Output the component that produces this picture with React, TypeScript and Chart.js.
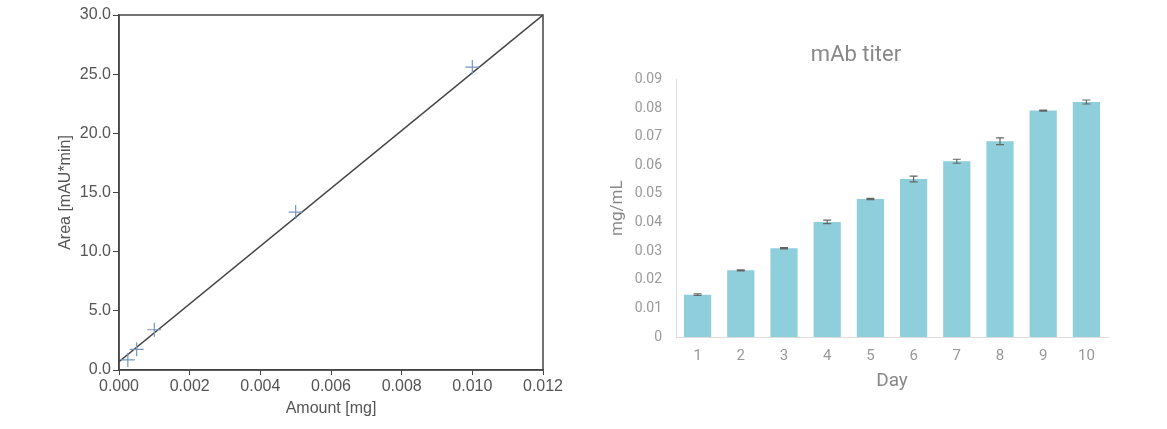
import { useEffect, useRef } from 'react';
import { Chart, registerables } from 'chart.js';

Chart.register(...registerables);

// calibration (left)
const amountMg = [0.00025, 0.0005, 0.001, 0.005, 0.01];
const areaMAU = [0.85, 1.75, 3.4, 13.35, 25.6];
const fitX = [0, 0.012];
const fitY = [0.7, 30];

// mAb titer (right)
const days = ['1', '2', '3', '4', '5', '6', '7', '8', '9', '10'];
const titer = [0.0148, 0.0233, 0.031, 0.0402, 0.0482, 0.0552, 0.0614, 0.0684, 0.0791, 0.0821];
const titerErr = [0.0003, 0.0002, 0.0002, 0.0006, 0.0002, 0.001, 0.0007, 0.0012, 0.0002, 0.0007];

const frame = {
  id: 'frame',
  afterDraw(chart: any) {
    const { ctx, chartArea: a } = chart;
    ctx.save();
    ctx.strokeStyle = '#444';
    ctx.lineWidth = 1.5;
    ctx.strokeRect(a.left, a.top, a.right - a.left, a.bottom - a.top);
    ctx.restore();
  }
};

const errorBars = {
  id: 'errorBars',
  afterDatasetsDraw(chart: any) {
    const { ctx } = chart;
    const xs = chart.scales.x;
    const ys = chart.scales.y;
    ctx.save();
    ctx.strokeStyle = '#666';
    ctx.lineWidth = 1.2;
    titer.forEach((v, i) => {
      const x = xs.getPixelForValue(i);
      const top = ys.getPixelForValue(v + titerErr[i]);
      const bot = ys.getPixelForValue(v - titerErr[i]);
      ctx.beginPath();
      ctx.moveTo(x, top);
      ctx.lineTo(x, bot);
      ctx.moveTo(x - 4, top);
      ctx.lineTo(x + 4, top);
      ctx.moveTo(x - 4, bot);
      ctx.lineTo(x + 4, bot);
      ctx.stroke();
    });
    ctx.restore();
  }
};

function CalibrationChart() {
  const ref = useRef<HTMLCanvasElement>(null);
  useEffect(() => {
    if (!ref.current) return;
    const font = { family: '"Liberation Sans", Arial, sans-serif', size: 16 };
    const chart = new Chart(ref.current, {
      type: 'scatter',
      data: {
        datasets: [
          {
            data: amountMg.map((x, i) => ({ x, y: areaMAU[i] })),
            pointStyle: 'cross',
            pointRadius: 7,
            borderColor: '#7597bb',
            borderWidth: 1.2
          },
          {
            data: fitX.map((x, i) => ({ x, y: fitY[i] })),
            showLine: true,
            borderColor: '#444',
            borderWidth: 1.5,
            pointRadius: 0
          }
        ]
      },
      options: {
        animation: false,
        responsive: true,
        maintainAspectRatio: false,
        layout: { padding: { left: 52, top: 15, right: 37, bottom: 7 } },
        plugins: { legend: { display: false }, tooltip: { enabled: false } },
        scales: {
          x: {
            type: 'linear',
            min: 0,
            max: 0.012,
            afterFit: (s: any) => { s.height = 52; },
            border: { color: '#444', width: 1.5 },
            grid: { drawOnChartArea: false, drawTicks: true, tickLength: 5, color: '#444' },
            ticks: { stepSize: 0.002, color: '#555', font, padding: 2, maxRotation: 0, callback: (v: any) => Number(v).toFixed(3) },
            title: { display: true, text: 'Amount [mg]', color: '#555', font, padding: { top: 2, bottom: 4 } }
          },
          y: {
            min: 0,
            max: 30,
            afterFit: (s: any) => { s.width = 67; },
            border: { color: '#444', width: 1.5 },
            grid: { drawOnChartArea: false, drawTicks: true, tickLength: 6, color: '#444' },
            ticks: { stepSize: 5, color: '#555', font, padding: 2, callback: (v: any) => Number(v).toFixed(1) },
            title: { display: true, text: 'Area [mAU*min]', color: '#555', font, padding: { top: 4, bottom: 2 } }
          }
        }
      },
      plugins: [frame]
    });
    return () => chart.destroy();
  }, []);
  return <canvas ref={ref} />;
}

function TiterChart() {
  const ref = useRef<HTMLCanvasElement>(null);
  useEffect(() => {
    if (!ref.current) return;
    const family = 'Roboto, "Open Sans", sans-serif';
    const chart = new Chart(ref.current, {
      type: 'bar',
      data: {
        labels: days,
        datasets: [
          {
            data: titer,
            backgroundColor: '#8ecfdb',
            barPercentage: 0.63,
            categoryPercentage: 1
          }
        ]
      },
      options: {
        animation: false,
        responsive: true,
        maintainAspectRatio: false,
        layout: { padding: { left: 14, top: 0, right: 59, bottom: 32 } },
        plugins: {
          legend: { display: false },
          tooltip: { enabled: false },
          title: {
            display: true,
            text: 'mAb titer',
            color: '#888',
            font: { family, size: 22, weight: 'normal' },
            padding: { top: 42, bottom: 11 }
          }
        },
        scales: {
          x: {
            afterFit: (s: any) => { s.height = 60; },
            border: { color: '#ddd', width: 1 },
            grid: { display: false, drawTicks: false },
            ticks: { color: '#999', font: { family, size: 15 }, padding: 10 },
            title: { display: true, text: 'Day', color: '#888', font: { family, size: 19 }, padding: { top: 4, bottom: 4 } }
          },
          y: {
            min: 0,
            max: 0.09,
            afterFit: (s: any) => { s.width = 72; },
            border: { color: '#ddd', width: 1 },
            grid: { display: false, drawTicks: false },
            ticks: {
              stepSize: 0.01,
              color: '#999',
              font: { family, size: 14 },
              padding: 14,
              callback: (v: any) => (Number(v) === 0 ? '0' : Number(v).toFixed(2))
            },
            title: { display: true, text: 'mg/mL', color: '#888', font: { family, size: 17 }, padding: { top: 4, bottom: 4 } }
          }
        }
      },
      plugins: [errorBars]
    });
    return () => chart.destroy();
  }, []);
  return <canvas ref={ref} />;
}

export default function App() {
  return (
    <div style={{ position: 'fixed', left: 0, top: 0, width: 1167, height: 429, background: '#fff' }}>
      <div style={{ position: 'absolute', left: 0, top: 0, width: 580, height: 429 }}>
        <CalibrationChart />
      </div>
      <div style={{ position: 'absolute', left: 590, top: 0, width: 577, height: 429 }}>
        <TiterChart />
      </div>
    </div>
  );
}
